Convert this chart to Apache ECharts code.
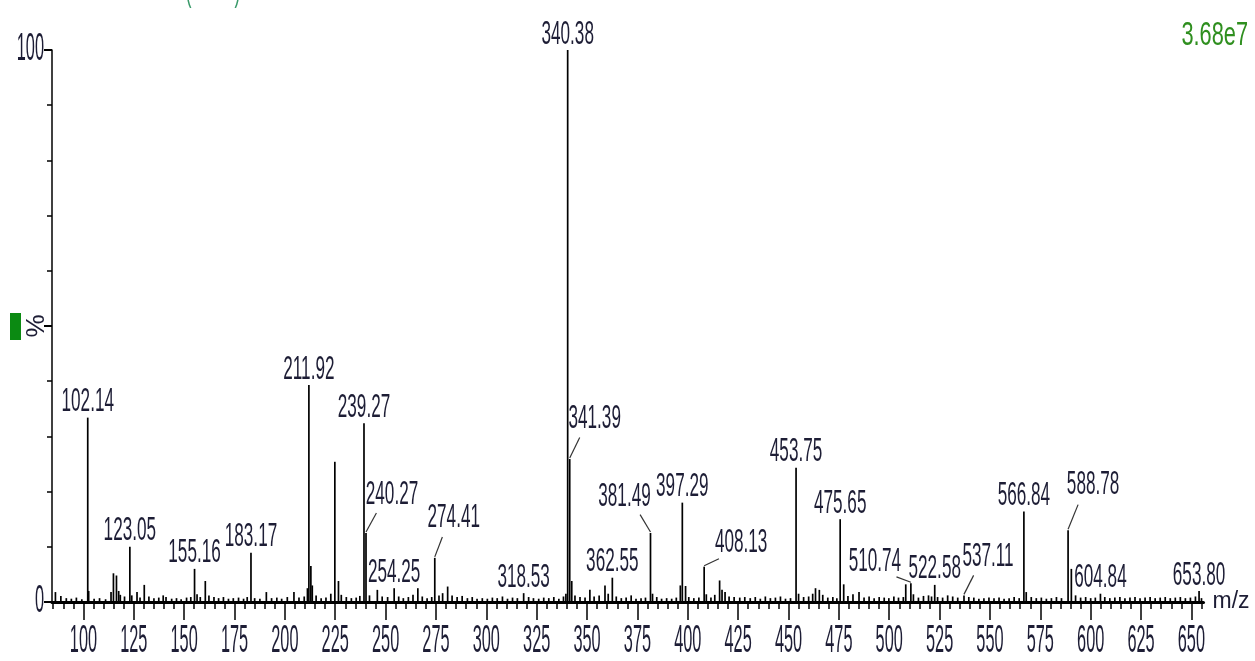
<!DOCTYPE html>
<html>
<head>
<meta charset="utf-8">
<script src="https://cdn.jsdelivr.net/npm/echarts@6.0.0/dist/echarts.min.js"></script>
<style>
  html, body { margin: 0; padding: 0; background: #ffffff; }
  #chart { width: 1255px; height: 661px; }
</style>
</head>
<body>
<div id="chart"></div>
<script>
// ---------- data ----------
const labeledMz  = [102.14, 123.05, 155.16, 183.17, 211.92, 239.27, 240.27, 254.25, 274.41, 318.53,
                    340.38, 341.39, 362.55, 381.49, 397.29, 408.13, 453.75, 475.65, 510.74, 522.58,
                    537.11, 566.84, 588.78, 604.84, 653.80];
const labeledInt = [33.4, 10.0, 6.0, 8.9, 39.3, 32.4, 12.5, 2.5, 8.0, 1.6,
                    100, 25.9, 4.4, 12.5, 18.0, 6.4, 24.3, 15.0, 3.4, 3.1,
                    1.2, 16.4, 13.0, 1.5, 2.0];
const labelText  = ['102.14','123.05','155.16','183.17','211.92','239.27','240.27','254.25','274.41','318.53',
                    '340.38','341.39','362.55','381.49','397.29','408.13','453.75','475.65','510.74','522.58',
                    '537.11','566.84','588.78','604.84','653.80'];

const otherPeaks = [[224.8,25.4],[114.9,5.2],[116.4,4.8],[160.5,3.8],[212.9,6.5],[226.6,3.8],[130.2,3.1],
                    [280.8,2.8],[266.0,2.5],[245.9,2.2],[351.4,2.2],[358.9,3.0],[342.4,3.8],[398.9,2.9],
                    [415.8,3.9],[463.4,2.5],[465.3,2.2],[477.4,3.2],[485.0,1.8],[508.2,3.2],[590.4,6.0],
                    [568.0,1.8],[102.6,2.0],[113.7,1.8],[126.6,1.8],[190.8,1.8],[204.5,1.8]];

const noisePeaks = [
  [86.1,1.8],[88.8,1.1],[91.5,0.7],[94.0,0.6],[96.5,0.8],[99.2,0.5],
  [105.3,0.6],[108.0,0.7],[111.0,0.5],[117.5,2.0],[118.3,1.3],[120.4,1.0],[124.0,1.2],
  [128.1,0.8],[132.5,1.0],[135.0,0.7],[137.4,0.8],[139.6,1.2],[141.0,0.9],[143.8,0.6],[146.2,0.7],[148.5,0.5],
  [151.2,0.8],[153.3,0.9],[156.4,1.4],[158.0,0.9],[162.3,1.2],[164.8,0.9],[167.1,0.7],[169.5,0.9],[172.0,0.6],[174.4,0.7],
  [177.0,0.8],[179.5,0.6],[181.3,0.9],[185.0,0.7],[187.6,0.6],[193.4,0.7],[196.0,0.8],[198.4,0.6],
  [201.2,0.9],[207.0,0.8],[209.6,1.0],[211.2,2.5],[213.6,3.0],[215.5,1.2],[218.0,0.7],[220.4,0.8],[222.8,1.5],
  [228.0,1.3],[230.5,0.9],[233.0,0.7],[235.4,0.8],[237.2,1.1],[242.0,1.2],[248.3,1.0],
  [251.0,0.9],[256.5,1.0],[258.8,0.7],[261.3,0.9],[263.6,1.3],[268.2,1.0],[270.6,0.7],[272.9,0.9],
  [276.5,1.2],[278.3,1.6],[283.0,1.2],[285.5,0.9],[288.0,1.1],[290.6,0.7],[293.0,0.9],[295.4,0.6],[298.0,0.7],
  [300.5,0.6],[303.0,0.8],[305.4,0.7],[308.0,1.0],[310.5,0.6],[313.0,0.8],[315.4,0.7],[321.0,0.9],[323.4,0.7],
  [326.0,0.6],[328.5,0.8],[331.0,0.7],[333.5,0.9],[336.0,0.6],[338.3,1.0],[339.5,1.5],[344.0,1.2],[346.5,0.9],[349.0,0.8],
  [353.5,1.0],[356.0,1.2],[360.5,1.5],[364.5,1.0],[367.0,0.7],[369.4,0.8],[371.9,1.2],[374.3,0.6],
  [376.8,0.7],[379.0,0.8],[382.5,1.5],[384.6,0.9],[387.0,0.6],[389.5,0.7],[392.0,0.6],[394.3,0.8],[396.3,3.0],[400.5,0.9],
  [403.0,0.7],[405.5,0.8],[409.2,1.4],[411.5,0.8],[413.4,1.3],[417.0,2.2],[418.5,1.8],[420.5,1.0],[423.0,0.9],
  [425.8,0.8],[428.3,0.9],[431.0,0.7],[433.5,0.9],[436.0,0.6],[438.5,1.0],[441.0,0.7],[443.5,0.8],[446.0,1.0],[448.5,0.6],
  [451.0,0.7],[455.0,1.5],[457.5,0.9],[460.0,1.0],[462.0,1.5],[467.0,1.3],[469.5,0.8],[472.0,0.9],[474.0,0.7],
  [479.5,1.1],[482.0,1.4],[487.5,0.8],[490.0,1.0],[492.5,0.7],[495.0,0.9],[497.5,0.8],[499.8,0.7],
  [502.3,1.0],[504.6,0.8],[507.0,0.9],[512.0,1.4],[514.5,0.8],[517.0,1.1],[519.5,1.2],[521.0,1.0],[524.0,0.9],
  [526.5,0.8],[529.0,1.2],[531.5,1.0],[534.0,0.8],[539.5,0.9],[542.0,0.8],[544.5,0.6],[547.0,0.7],[549.5,0.8],
  [552.0,0.7],[554.5,0.8],[557.0,0.6],[559.5,0.7],[562.0,0.9],[564.5,0.7],[570.5,0.9],[573.0,0.7],
  [575.5,0.8],[578.0,0.6],[580.5,0.7],[583.0,0.9],[585.5,0.7],[592.5,1.2],[595.0,0.8],[597.5,0.9],[600.0,0.7],
  [602.3,0.8],[607.0,0.9],[609.5,0.7],[612.0,0.8],[614.5,0.9],[617.0,0.7],[619.5,0.8],[622.0,0.9],[624.5,0.7],
  [627.0,0.8],[629.5,0.9],[632.0,0.7],[634.5,0.8],[637.0,0.9],[639.5,0.7],[642.0,0.8],[644.5,0.9],[647.0,0.7],
  [649.5,0.8],[652.0,1.0],[655.0,0.7]
];

const xMajorTicks = [100,125,150,175,200,225,250,275,300,325,350,375,400,425,450,475,500,525,550,575,600,625,650];
const xMinorTicks = [85,90,95,105,110,115,120,130,135,140,145,155,160,165,170,180,185,190,195,205,210,215,220,
                     230,235,240,245,255,260,265,270,280,285,290,295,305,310,315,320,330,335,340,345,355,360,365,370,
                     380,385,390,395,405,410,415,420,430,435,440,445,455,460,465,470,480,485,490,495,505,510,515,520,
                     530,535,540,545,555,560,565,570,580,585,590,595,605,610,615,620,630,635,640,645,655];
const xTickLabels = ['100','125','150','175','200','225','250','275','300','325','350','375','400','425','450',
                     '475','500','525','550','575','600','625','650'];
const yMajorTicks = [0, 50, 100];
const yLabelTicks = [0, 100];
const yTickLabels = ['0', '100'];
const yMinorTicks = [10, 20, 30, 40, 60, 70, 80, 90];
const scaleText = '3.68e7';

// ---------- layout / style ----------
// label offsets (px) for labels drawn aside the peak with a leader line: [dx to label centre, dy to label bottom]
const labelShift = {
  '240.27': [26, -25], '274.41': [19, -26], '341.39': [25, -27], '381.49': [-26, -23],
  '408.13': [37, -10], '510.74': [-36, -8], '537.11': [24, -25], '588.78': [25, -32]
};
const textColor = '#1d1d35';
const greenColor = '#2f8f1f';
const fontFam = '"Liberation Sans", Arial, sans-serif';
const peakFont = '33px ' + fontFam;
const tickFont = '38px ' + fontFam;
const peakSqueeze = 0.52;
const tickSqueeze = 0.43;

const sticks = [];
labeledMz.forEach((m, i) => sticks.push([m, labeledInt[i]]));
otherPeaks.forEach(p => sticks.push(p));
noisePeaks.forEach(p => sticks.push(p));
sticks.sort((a, b) => a[0] - b[0]);

const labelData = labeledMz.map((m, i) => [m, labeledInt[i]]);

const chart = echarts.init(document.getElementById('chart'));
const xMin = 84.4, xMax = 656;
const xTickData = xMajorTicks.map(v => [v, 0]);
const yTickData = yLabelTicks.map(v => [xMin, v]);

chart.setOption({
  animation: false,
  backgroundColor: '#ffffff',
  grid: { left: 52, top: 50, right: 51.5, bottom: 59, containLabel: false, outerBoundsMode: 'none' },
  xAxis: [
    {
      type: 'value', min: xMin, max: xMax,
      name: 'm/z', nameLocation: 'end', nameGap: 9, nameMoveOverlap: false,
      nameTextStyle: { color: textColor, fontSize: 23, fontFamily: fontFam, verticalAlign: 'middle' },
      axisLine: { show: true, onZero: false, lineStyle: { color: '#000', width: 3 } },
      axisTick: { show: true, customValues: xMajorTicks, length: 18, lineStyle: { color: '#000', width: 1.5 } },
      axisLabel: { show: false },
      splitLine: { show: false }
    },
    {
      type: 'value', min: xMin, max: xMax, position: 'bottom',
      axisLine: { show: false },
      axisTick: { show: true, customValues: xMinorTicks, length: 7, lineStyle: { color: '#000', width: 1.5 } },
      axisLabel: { show: false },
      splitLine: { show: false }
    }
  ],
  yAxis: [
    {
      type: 'value', min: 0, max: 100,
      name: '%', nameLocation: 'middle', nameRotate: 90, nameGap: 2, nameMoveOverlap: false,
      nameTextStyle: { color: textColor, fontSize: 26, fontFamily: fontFam },
      axisLine: { show: true, lineStyle: { color: '#000', width: 1.5 } },
      axisTick: { show: true, customValues: yMajorTicks, length: 8, lineStyle: { color: '#000', width: 2 } },
      axisLabel: { show: false },
      splitLine: { show: false }
    },
    {
      type: 'value', min: 0, max: 100, position: 'left',
      axisLine: { show: false },
      axisTick: { show: true, customValues: yMinorTicks, length: 5, lineStyle: { color: '#000', width: 1.5 } },
      axisLabel: { show: false },
      splitLine: { show: false }
    }
  ],
  graphic: [
    { type: 'rect', left: 10, top: 313, shape: { width: 11, height: 27 }, style: { fill: '#0b8a12' } },
    { type: 'text', x: 1248, y: 36, scaleX: 0.66,
      style: { text: scaleText, fill: greenColor, font: peakFont, align: 'right', verticalAlign: 'middle' } },
    { type: 'text', x: 213, y: 8, scaleX: peakSqueeze,
      style: { text: '(         )', fill: '#3a9a6a', font: peakFont, align: 'center', verticalAlign: 'bottom' } }
  ],
  series: [
    {
      type: 'bar', xAxisIndex: 0, yAxisIndex: 0,
      data: sticks, barWidth: 1.7, barGap: '-100%',
      itemStyle: { color: '#000' },
      silent: true
    },
    {
      // peak labels with leader lines
      type: 'custom', xAxisIndex: 0, yAxisIndex: 0,
      data: labelData, clip: false, silent: true,
      encode: { x: 0, y: 1 },
      renderItem: function (params, api) {
        const p = api.coord([api.value(0), api.value(1)]);
        const txt = labelText[params.dataIndex];
        const sh = labelShift[txt];
        const children = [];
        let lx = p[0], ly = p[1] + 1;
        if (sh) {
          lx = p[0] + sh[0];
          ly = p[1] + sh[1] + 3;
          children.push({
            type: 'line',
            shape: { x1: p[0], y1: p[1] - 1, x2: p[0] + sh[0] * 0.4, y2: p[1] + sh[1] * 0.8 },
            style: { stroke: '#333', lineWidth: 1.2 }
          });
        }
        children.push({
          type: 'text', x: lx, y: ly, scaleX: peakSqueeze,
          style: { text: txt, fill: textColor, font: peakFont, align: 'center', verticalAlign: 'bottom' }
        });
        return { type: 'group', children: children };
      }
    },
    {
      // x tick labels placed through the x scale
      type: 'custom', xAxisIndex: 0, yAxisIndex: 0,
      data: xTickData, clip: false, silent: true,
      encode: { x: 0, y: 1 },
      renderItem: function (params, api) {
        const p = api.coord([api.value(0), 0]);
        return {
          type: 'text', x: p[0], y: p[1] + 21, scaleX: tickSqueeze,
          style: { text: xTickLabels[params.dataIndex], fill: textColor, font: tickFont, align: 'center', verticalAlign: 'top' }
        };
      }
    },
    {
      // y tick labels placed through the y scale
      type: 'custom', xAxisIndex: 0, yAxisIndex: 0,
      data: yTickData, clip: false, silent: true,
      encode: { x: 0, y: 1 },
      renderItem: function (params, api) {
        const p = api.coord([api.value(0), api.value(1)]);
        return {
          type: 'text', x: p[0] - 8, y: p[1], scaleX: tickSqueeze,
          style: { text: yTickLabels[params.dataIndex], fill: textColor, font: tickFont, align: 'right', verticalAlign: 'middle' }
        };
      }
    }
  ]
});
</script>
</body>
</html>
